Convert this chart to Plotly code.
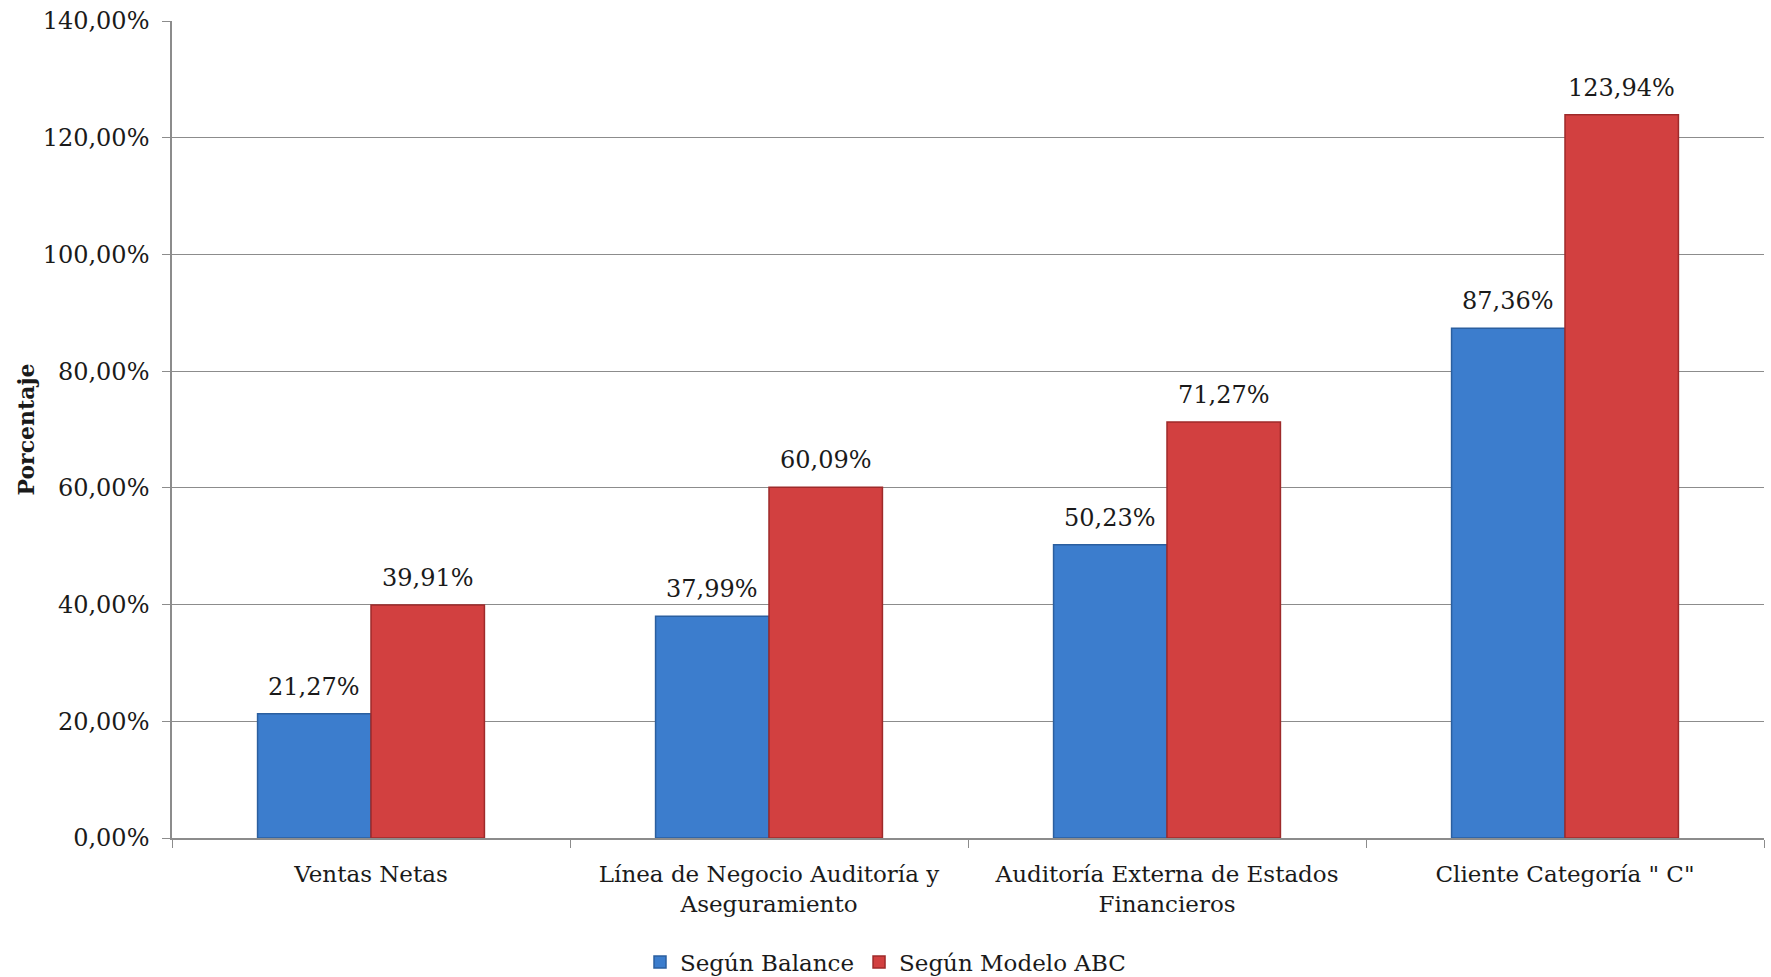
import plotly.graph_objects as go

categories = [
    "Ventas Netas",
    "Línea de Negocio Auditoría y<br>Aseguramiento",
    "Auditoría Externa de Estados<br>Financieros",
    "Cliente Categoría \" C\"",
]
series_names = ["Según Balance", "Según Modelo ABC"]
balance = [21.27, 37.99, 50.23, 87.36]
modelo_abc = [39.91, 60.09, 71.27, 123.94]
y_ticks = [0, 20, 40, 60, 80, 100, 120, 140]

FONT = "DejaVu Serif"
NUM_SIZE = 24
TXT_SIZE = 23

def fmt(v):
    return f"{v:.2f}%".replace(".", ",")

fig = go.Figure()
fig.add_trace(go.Bar(
    x=categories, y=balance, name=series_names[0],
    marker=dict(color="#3c7dcd", line=dict(color="#2b5f9f", width=1.5)),
))
fig.add_trace(go.Bar(
    x=categories, y=modelo_abc, name=series_names[1],
    marker=dict(color="#d24040", line=dict(color="#9e2a2a", width=1.5)),
))

# value labels above each bar
half_bar_px = 56.7
for vals, sign in ((balance, -1), (modelo_abc, 1)):
    for c, v in zip(categories, vals):
        fig.add_annotation(
            x=c, y=v, xref="x", yref="y", text=fmt(v), showarrow=False,
            xshift=sign * half_bar_px, yshift=27, yanchor="middle",
            font=dict(family=FONT, size=NUM_SIZE, color="#1a1a1a"),
        )

fig.add_annotation(
    text="<b>Porcentaje</b>", xref="paper", yref="paper",
    x=-0.0923, y=0.5, xanchor="center", yanchor="middle",
    textangle=-90, showarrow=False,
    font=dict(family=FONT, size=22, color="#1a1a1a"),
)

fig.update_layout(
    width=1771, height=977,
    margin=dict(l=172, r=7, t=19, b=139),
    paper_bgcolor="white", plot_bgcolor="white",
    barmode="group", bargap=0.43, bargroupgap=0,
    font=dict(family=FONT, size=TXT_SIZE, color="#1a1a1a"),
    showlegend=True,
    legend=dict(
        orientation="h", xref="container", yref="container",
        x=0.5, xanchor="center", y=0.0154, yanchor="middle",
        font=dict(family=FONT, size=TXT_SIZE, color="#1a1a1a"),
        traceorder="normal",
    ),
    xaxis=dict(
        type="category",
        showline=True, linecolor="#8c8c8c", linewidth=1.5,
        ticks="outside", tickson="boundaries", ticklen=8, tickcolor="#8c8c8c",
        ticklabelstandoff=15,
        tickfont=dict(family=FONT, size=TXT_SIZE, color="#1a1a1a"),
        showgrid=False,
    ),
    yaxis=dict(
        range=[0, 140], tickmode="array", tickvals=y_ticks,
        ticktext=[fmt(t) for t in y_ticks],
        showline=True, linecolor="#8c8c8c", linewidth=1.5,
        ticks="outside", ticklen=8, tickcolor="#8c8c8c",
        ticklabelstandoff=8,
        showgrid=True, gridcolor="#8c8c8c", gridwidth=1,
        zeroline=False,
        tickfont=dict(family=FONT, size=NUM_SIZE, color="#1a1a1a"),
    ),
)

fig.write_html("out.html")
